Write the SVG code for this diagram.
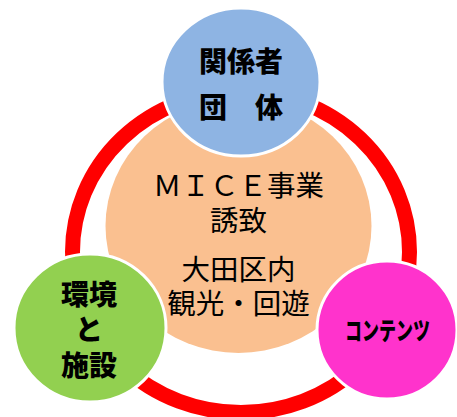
<svg xmlns="http://www.w3.org/2000/svg" width="457" height="417" viewBox="0 0 457 417">
<style>
.jp{font-family:"Noto Sans CJK JP","Noto Sans CJK SC",sans-serif;fill:#000;text-anchor:middle}
.b{font-weight:900}
.node{stroke:#fff;stroke-width:3}
</style>
<rect width="457" height="417" fill="#fff"/>
<g id="center">
<ellipse cx="238.5" cy="226" rx="133" ry="127" fill="#FAC090"/>
<text class="jp" x="238.5" y="196" font-size="28.5">ＭＩＣＥ事業</text>
<text class="jp" x="238.5" y="231" font-size="28.5">誘致</text>
<text class="jp" x="238.5" y="280" font-size="28.5">大田区内</text>
<text class="jp" x="238.5" y="314" font-size="28.5">観光・回遊</text>
</g>
<g id="connectors">
<ellipse cx="241" cy="252" rx="168.5" ry="160.5" fill="none" stroke="#FF0000" stroke-width="15"/>
</g>
<g id="stakeholders">
<ellipse class="node" cx="241" cy="82" rx="79" ry="74" fill="#8EB4E3"/>
<text class="jp b" x="241" y="72" font-size="28">関係者</text>
<text class="jp b" x="241" y="118" font-size="28">団　体</text>
</g>
<g id="environment">
<ellipse class="node" cx="90" cy="328" rx="76" ry="74" fill="#92D050"/>
<text class="jp b" x="89" y="305" font-size="28">環境</text>
<text class="jp b" x="89" y="340" font-size="28">と</text>
<text class="jp b" x="89" y="376" font-size="28">施設</text>
</g>
<g id="contents">
<ellipse class="node" cx="387" cy="330" rx="70" ry="69" fill="#FF33CC"/>
<text class="jp b" transform="translate(387.5,340) scale(0.68,1)" x="0" y="0" font-size="25">コンテンツ</text>
</g>
</svg>
